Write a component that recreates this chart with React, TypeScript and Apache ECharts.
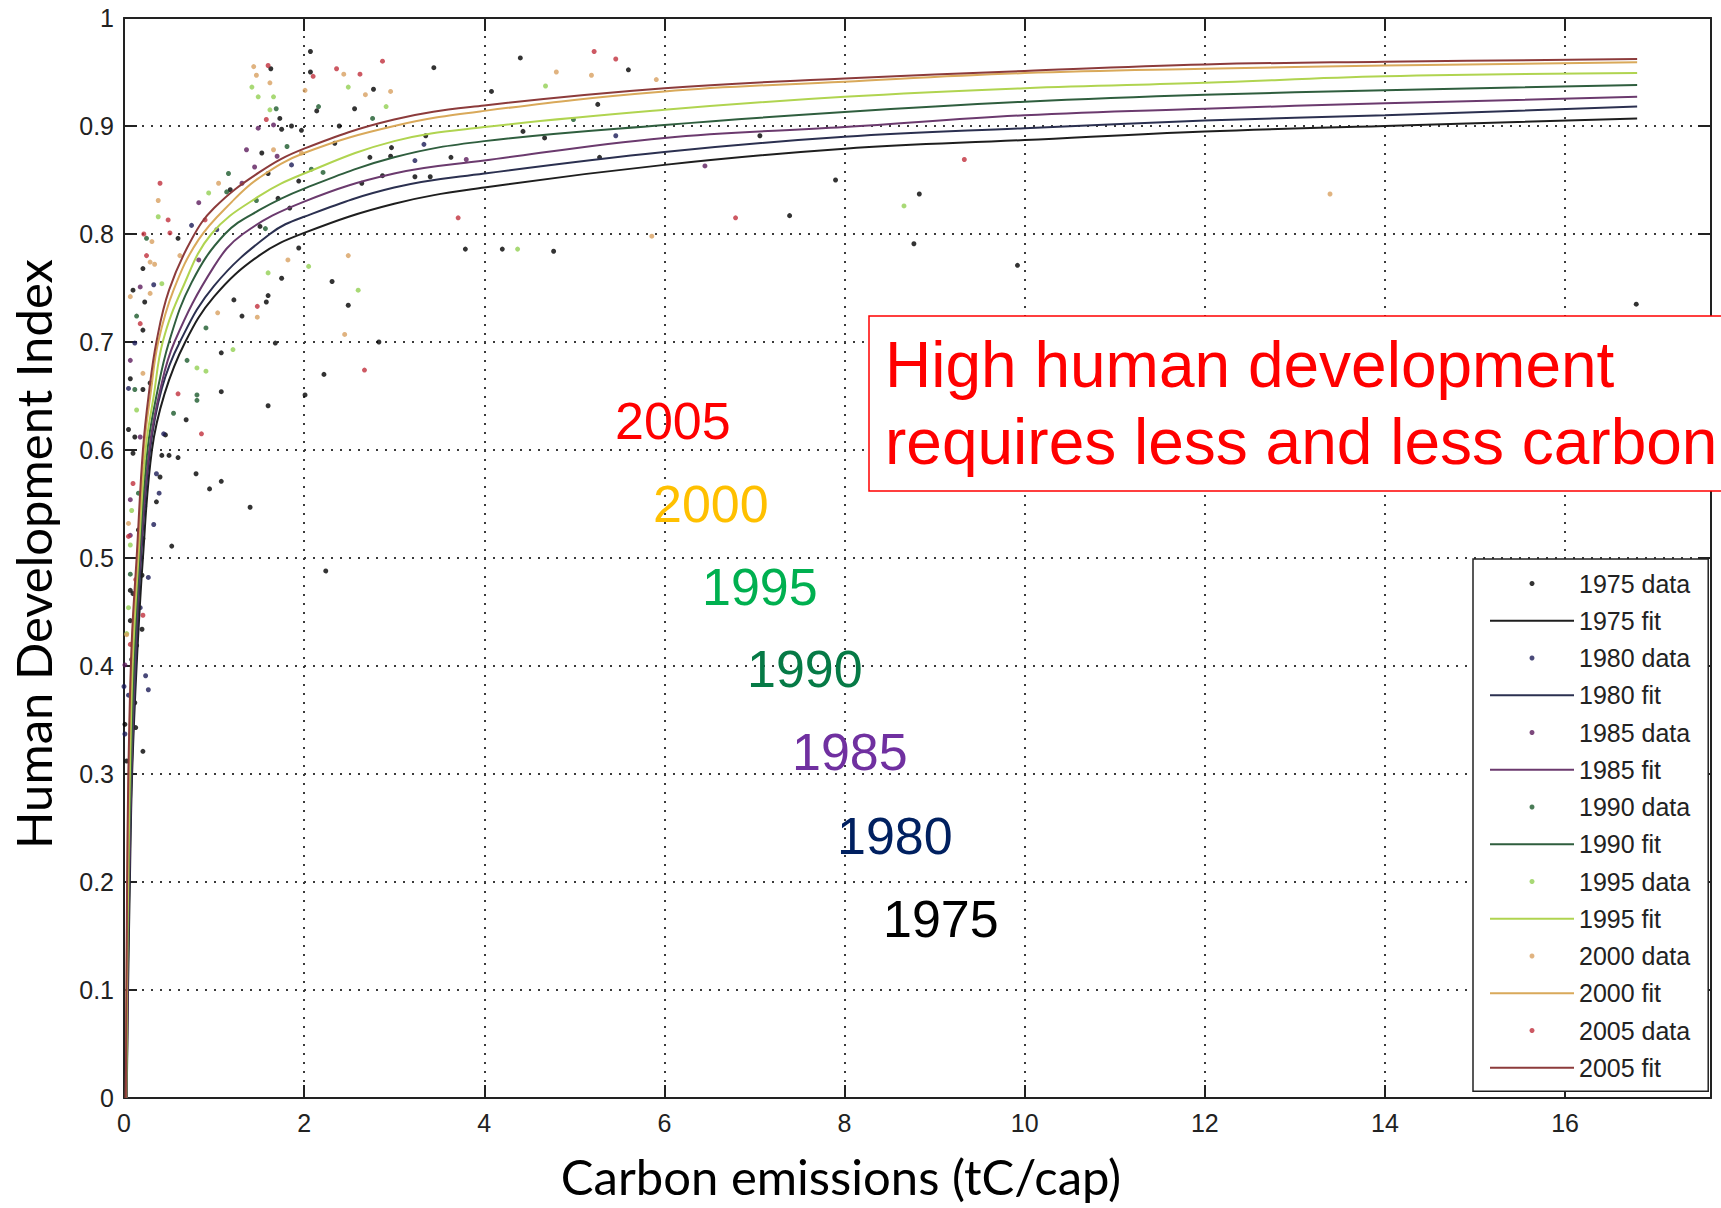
import React, { useEffect, useRef } from 'react';
import * as echarts from 'echarts';

// Survey years, one scatter series ("data") and one fitted curve ("fit") per year
const years = ['1975', '1980', '1985', '1990', '1995', '2000', '2005'];

// [carbon emissions tC/cap, HDI] per country
const data1975 = [
  [2.07, 0.969], [2.07, 0.95], [1.63, 0.953], [1.73, 0.907], [1.75, 0.897], [1.86, 0.9], [1.97, 0.896], [2.14, 0.914],
  [1.53, 0.875], [1.6, 0.856], [1.18, 0.841], [1.71, 0.833], [1.84, 0.824], [1.94, 0.849], [0.6, 0.796], [0.21, 0.768],
  [1.75, 0.759], [1.94, 0.787], [2.31, 0.756], [1.51, 0.807], [1.6, 0.743], [1.58, 0.737], [1.22, 0.739], [1.31, 0.724],
  [1.08, 0.69], [1.08, 0.654], [0.69, 0.628], [1.6, 0.641], [2.22, 0.67], [2.01, 0.651], [1.68, 0.699], [0.46, 0.614],
  [0.42, 0.595], [0.5, 0.595], [0.6, 0.593], [0.8, 0.578], [1.08, 0.571], [0.95, 0.564], [1.4, 0.547], [0.53, 0.511],
  [0.36, 0.552], [0.4, 0.575], [0.21, 0.518], [0.1, 0.748], [0.23, 0.737], [0.21, 0.711], [0.07, 0.666], [0.21, 0.656],
  [0.29, 0.662], [0.05, 0.619], [0.12, 0.612], [0.1, 0.597], [0.16, 0.526], [2.24, 0.488], [0.2, 0.484], [0.07, 0.47],
  [0.1, 0.467], [0.07, 0.442], [0.2, 0.434], [0.1, 0.419], [0.14, 0.419], [0.085, 0.406], [0.12, 0.366], [0.01, 0.346],
  [0.13, 0.343], [0.21, 0.321], [0.03, 0.312], [4.4, 0.963], [5.6, 0.952], [4.08, 0.932], [5.26, 0.92], [3.44, 0.954],
  [4.43, 0.895], [4.67, 0.889], [7.06, 0.891], [7.9, 0.85], [8.83, 0.837], [7.39, 0.817], [8.77, 0.791], [9.92, 0.771],
  [3.79, 0.786], [4.2, 0.786], [4.77, 0.784], [5.28, 0.871], [3.63, 0.871], [2.87, 0.854], [3.23, 0.853], [3.4, 0.853],
  [2.64, 0.847], [2.96, 0.872], [2.97, 0.88], [2.73, 0.871], [2.49, 0.734], [2.83, 0.7], [2.77, 0.934], [2.56, 0.916],
  [2.39, 0.9], [2.34, 0.884], [16.79, 0.735], [3.35, 0.891],
];
const data1980 = [
  [1.86, 0.864], [1.03, 0.804], [0.75, 0.808], [0.33, 0.753], [0.12, 0.699], [0.05, 0.657], [0.23, 0.589], [0.23, 0.548],
  [0.39, 0.56], [0.33, 0.531], [0.36, 0.578], [0.44, 0.615], [0.18, 0.454], [0.27, 0.482], [0.24, 0.391], [0.27, 0.378],
  [0.0, 0.381], [0.05, 0.373], [0.01, 0.337], [5.46, 0.891], [3.23, 0.868], [3.33, 0.883],
];
const data1985 = [
  [1.36, 0.878], [1.7, 0.872], [1.45, 0.862], [1.31, 0.847], [0.83, 0.829], [0.83, 0.776], [0.18, 0.751], [0.07, 0.683],
  [0.18, 0.612], [0.07, 0.554], [0.07, 0.521], [0.01, 0.401], [3.8, 0.869], [6.45, 0.863], [1.66, 0.901], [1.49, 0.898],
];
const data1990 = [
  [1.69, 0.916], [2.16, 0.918], [2.76, 0.907], [1.81, 0.881], [2.08, 0.86], [2.21, 0.857], [1.16, 0.856], [1.14, 0.839],
  [1.47, 0.831], [1.57, 0.805], [0.25, 0.796], [0.91, 0.713], [0.7, 0.683], [0.81, 0.651], [0.55, 0.634], [0.14, 0.724],
  [0.12, 0.656], [0.16, 0.56], [0.07, 0.485], [4.99, 0.906], [0.81, 0.646],
];
const data1995 = [
  [1.42, 0.936], [1.49, 0.927], [1.66, 0.927], [1.62, 0.915], [2.49, 0.936], [2.91, 0.918], [4.68, 0.937], [0.38, 0.816],
  [0.94, 0.838], [0.42, 0.754], [1.6, 0.764], [2.05, 0.77], [1.21, 0.693], [0.81, 0.676], [0.91, 0.673], [0.14, 0.637],
  [0.085, 0.544], [0.07, 0.512], [0.05, 0.454], [2.6, 0.748], [4.37, 0.786], [8.66, 0.826], [0.03, 0.43],
];
const data2000 = [
  [1.44, 0.955], [1.47, 0.947], [1.62, 0.94], [2.01, 0.933], [2.44, 0.948], [2.68, 0.929], [2.96, 0.932], [4.8, 0.95],
  [5.19, 0.947], [5.91, 0.943], [0.38, 0.831], [1.05, 0.847], [1.66, 0.878], [1.97, 0.875], [0.31, 0.793], [0.29, 0.774],
  [0.34, 0.772], [0.29, 0.745], [0.07, 0.742], [0.21, 0.671], [0.05, 0.532], [0.03, 0.429], [5.86, 0.798], [2.49, 0.78],
  [2.45, 0.707], [1.04, 0.727], [13.39, 0.837], [1.82, 0.776], [0.62, 0.78], [1.48, 0.723],
];
const data2005 = [
  [2.62, 0.948], [2.36, 0.953], [2.1, 0.946], [1.6, 0.956], [5.22, 0.969], [5.46, 0.962], [0.4, 0.847], [0.49, 0.813],
  [0.9, 0.813], [0.51, 0.801], [6.79, 0.815], [9.33, 0.869], [2.87, 0.96], [0.86, 0.615], [0.18, 0.717], [0.1, 0.569],
  [0.21, 0.447], [1.58, 0.906], [2.67, 0.674], [3.71, 0.815], [1.48, 0.733], [0.6, 0.652], [0.05, 0.52], [0.07, 0.42],
  [0.13, 0.48], [0.25, 0.78], [0.22, 0.8],
];

// Fitted HDI curves, [carbon emissions, HDI]
const fit1975 = [
  [0.03, 0], [0.045, 0.1], [0.065, 0.2], [0.09, 0.3], [0.14, 0.4], [0.21, 0.5], [0.31, 0.6], [0.45, 0.652], [0.68, 0.7],
  [1, 0.742], [1.5, 0.78], [2, 0.801], [3, 0.828], [4, 0.843], [6, 0.864], [8, 0.879], [10, 0.887], [12, 0.895],
  [14, 0.9], [16.8, 0.907],
];
const fit1980 = [
  [0.03, 0], [0.04, 0.1], [0.06, 0.2], [0.085, 0.3], [0.13, 0.4], [0.19, 0.5], [0.29, 0.6], [0.42, 0.657], [0.62, 0.7],
  [1, 0.752], [1.62, 0.8], [2, 0.816], [3, 0.843], [4, 0.856], [6, 0.876], [8, 0.89], [10, 0.898], [12, 0.905],
  [14, 0.91], [16.8, 0.918],
];
const fit1985 = [
  [0.03, 0], [0.04, 0.1], [0.055, 0.2], [0.08, 0.3], [0.12, 0.4], [0.18, 0.5], [0.28, 0.6], [0.4, 0.655], [0.56, 0.7],
  [1, 0.77], [1.32, 0.8], [2, 0.83], [3, 0.856], [4, 0.868], [6, 0.889], [8, 0.899], [10, 0.91], [12, 0.916],
  [14, 0.921], [16.8, 0.927],
];
const fit1990 = [
  [0.025, 0], [0.035, 0.1], [0.05, 0.2], [0.075, 0.3], [0.11, 0.4], [0.17, 0.5], [0.26, 0.6], [0.36, 0.65], [0.5, 0.7],
  [0.75, 0.755], [1.12, 0.8], [1.5, 0.822], [2, 0.842], [3, 0.871], [4, 0.886], [6, 0.901], [8, 0.913], [10, 0.9225],
  [12, 0.929], [14, 0.933], [16.8, 0.938],
];
const fit1995 = [
  [0.025, 0], [0.035, 0.12], [0.05, 0.22], [0.07, 0.32], [0.1, 0.41], [0.16, 0.5], [0.24, 0.6], [0.33, 0.65], [0.43, 0.7],
  [0.65, 0.75], [0.97, 0.8], [1.5, 0.835], [2, 0.856], [3, 0.886], [4, 0.899], [6, 0.915], [8, 0.927], [10, 0.935],
  [12, 0.94], [14, 0.946], [16.8, 0.949],
];
const fit2000 = [
  [0.02, 0], [0.03, 0.12], [0.04, 0.22], [0.06, 0.33], [0.09, 0.42], [0.15, 0.5], [0.22, 0.6], [0.3, 0.655], [0.38, 0.7],
  [0.55, 0.748], [0.83, 0.795], [1.2, 0.83], [1.5, 0.852], [2, 0.875], [3, 0.9], [4, 0.914], [6, 0.932], [8, 0.941],
  [10, 0.949], [12, 0.953], [14, 0.956], [16.8, 0.959],
];
const fit2005 = [
  [0.02, 0], [0.03, 0.14], [0.04, 0.25], [0.06, 0.35], [0.09, 0.43], [0.14, 0.5], [0.21, 0.6], [0.28, 0.655], [0.36, 0.7],
  [0.5, 0.748], [0.75, 0.795], [1, 0.824], [1.5, 0.857], [2, 0.879], [3, 0.906], [4, 0.919], [6, 0.935], [8, 0.944],
  [10, 0.951], [12, 0.957], [14, 0.9595], [16.8, 0.962],
];

const scatterData = [data1975, data1980, data1985, data1990, data1995, data2000, data2005];
const fitData = [fit1975, fit1980, fit1985, fit1990, fit1995, fit2000, fit2005];

// Axis ranges
const X_MIN = 0;
const X_MAX = 17.62;
const X_STEP = 2;
const Y_MIN = 0;
const Y_MAX = 1;
const Y_STEP = 0.1;

// Styling per year
const dotColors = ['#000000', '#1c1c58', '#5c1c5c', '#1c5a2c', '#92d052', '#d8a060', '#c0303c'];
const fitColors = ['#1e1e1e', '#2b3050', '#6b3a6e', '#2f5e3e', '#b0d450', '#d9a95a', '#8c3b3b'];
const yearLabelColors = ['#000000', '#002060', '#7030a0', '#067a46', '#00b050', '#ffc000', '#ff0000'];

// Year annotations next to the curves: [left x, vertical centre y] in pixels
const yearLabelPos = [
  [883, 919], [837, 836], [792, 752], [747, 669], [702, 587], [653, 504], [615, 421],
];

const calloutLines = ['High human development', 'requires less and less carbon'];
const xTitle = 'Carbon emissions (tC/cap)';
const yTitle = 'Human Development Index';

const GRID = { left: 124, top: 18, width: 1587, height: 1080 };
const TICK_FONT = '"Liberation Sans", Arial, sans-serif';
const TITLE_FONT = 'Lato, "Open Sans", sans-serif';

function boxAxis(extra: any) {
  return {
    type: 'value',
    axisLine: { show: true, onZero: false, lineStyle: { color: '#222', width: 2 } },
    axisTick: { show: true, inside: true, length: 13, lineStyle: { color: '#222', width: 2 } },
    ...extra,
  };
}

export default function App() {
  const ref = useRef<HTMLDivElement>(null);

  useEffect(() => {
    document.body.style.margin = '0';
    if (!ref.current) return;
    const chart = echarts.init(ref.current, undefined, { renderer: 'svg' });

    const splitLine = { show: true, lineStyle: { color: '#3a3a3a', width: 2, type: [2, 7] } };
    const tickLabel = { fontSize: 25, fontFamily: TICK_FONT, color: '#222' };

    const series: any[] = [];
    years.forEach((y, i) => {
      series.push({
        name: `${y} data`,
        type: 'scatter',
        data: scatterData[i],
        symbol: 'circle',
        symbolSize: 5,
        itemStyle: { color: dotColors[i] },
        z: 3,
      });
      series.push({
        name: `${y} fit`,
        type: 'line',
        data: fitData[i],
        symbol: 'none',
        showSymbol: false,
        smooth: 0.4,
        lineStyle: { color: fitColors[i], width: 2 },
        itemStyle: { color: fitColors[i] },
        z: 4,
      });
    });

    // Legend order: data then fit for each year; the fit entries show only their line
    const legendItems: any[] = [];
    years.forEach((y) => {
      legendItems.push({ name: `${y} data` });
      legendItems.push({ name: `${y} fit`, itemStyle: { opacity: 0 } });
    });

    const graphic: any[] = [
      {
        type: 'text',
        x: 33,
        y: 554,
        rotation: Math.PI / 2,
        style: { text: yTitle, font: `49px ${TITLE_FONT}`, fill: '#000', align: 'center', verticalAlign: 'middle' },
      },
      {
        type: 'text',
        x: 841,
        y: 1176,
        style: { text: xTitle, font: `49px ${TITLE_FONT}`, fill: '#000', align: 'center', verticalAlign: 'middle' },
      },
      {
        type: 'rect',
        z: 100,
        shape: { x: 869, y: 316, width: 900, height: 175 },
        style: { fill: '#ffffff', stroke: '#ff0000', lineWidth: 1.5 },
      },
      ...calloutLines.map((t, i) => ({
        type: 'text',
        z: 101,
        x: 885,
        y: 365 + i * 77,
        style: { text: t, font: `64px ${TICK_FONT}`, fill: '#ff0000', align: 'left', verticalAlign: 'middle' },
      })),
      ...years.map((y, i) => ({
        type: 'text',
        z: 101,
        x: yearLabelPos[i][0],
        y: yearLabelPos[i][1],
        style: { text: y, font: `52px ${TICK_FONT}`, fill: yearLabelColors[i], align: 'left', verticalAlign: 'middle' },
      })),
    ];

    chart.setOption({
      animation: false,
      backgroundColor: '#ffffff',
      textStyle: { fontFamily: TICK_FONT },
      grid: { ...GRID, containLabel: false },
      xAxis: [
        boxAxis({
          position: 'bottom',
          min: X_MIN,
          max: X_MAX,
          interval: X_STEP,
          axisLabel: { ...tickLabel, margin: 12, showMaxLabel: false },
          splitLine,
        }),
        boxAxis({
          position: 'top',
          min: X_MIN,
          max: X_MAX,
          interval: X_STEP,
          axisLabel: { show: false },
          splitLine: { show: false },
        }),
      ],
      yAxis: [
        boxAxis({
          position: 'left',
          min: Y_MIN,
          max: Y_MAX,
          interval: Y_STEP,
          axisLabel: { ...tickLabel, margin: 10 },
          splitLine,
        }),
        boxAxis({
          position: 'right',
          min: Y_MIN,
          max: Y_MAX,
          interval: Y_STEP,
          axisLabel: { show: false },
          splitLine: { show: false },
        }),
      ],
      legend: {
        data: legendItems,
        orient: 'vertical',
        left: 1473,
        top: 559,
        padding: [12, 18, 11, 16],
        itemWidth: 84,
        itemHeight: 5,
        itemGap: 12.25,
        selectedMode: false,
        backgroundColor: '#ffffff',
        borderColor: '#222',
        borderWidth: 1.5,
        borderRadius: 0,
        textStyle: { fontSize: 25, lineHeight: 25, fontFamily: TICK_FONT, color: '#222' },
        z: 50,
      },
      graphic,
      series,
    });

    return () => chart.dispose();
  }, []);

  return <div ref={ref} style={{ width: 1721, height: 1208 }} />;
}
